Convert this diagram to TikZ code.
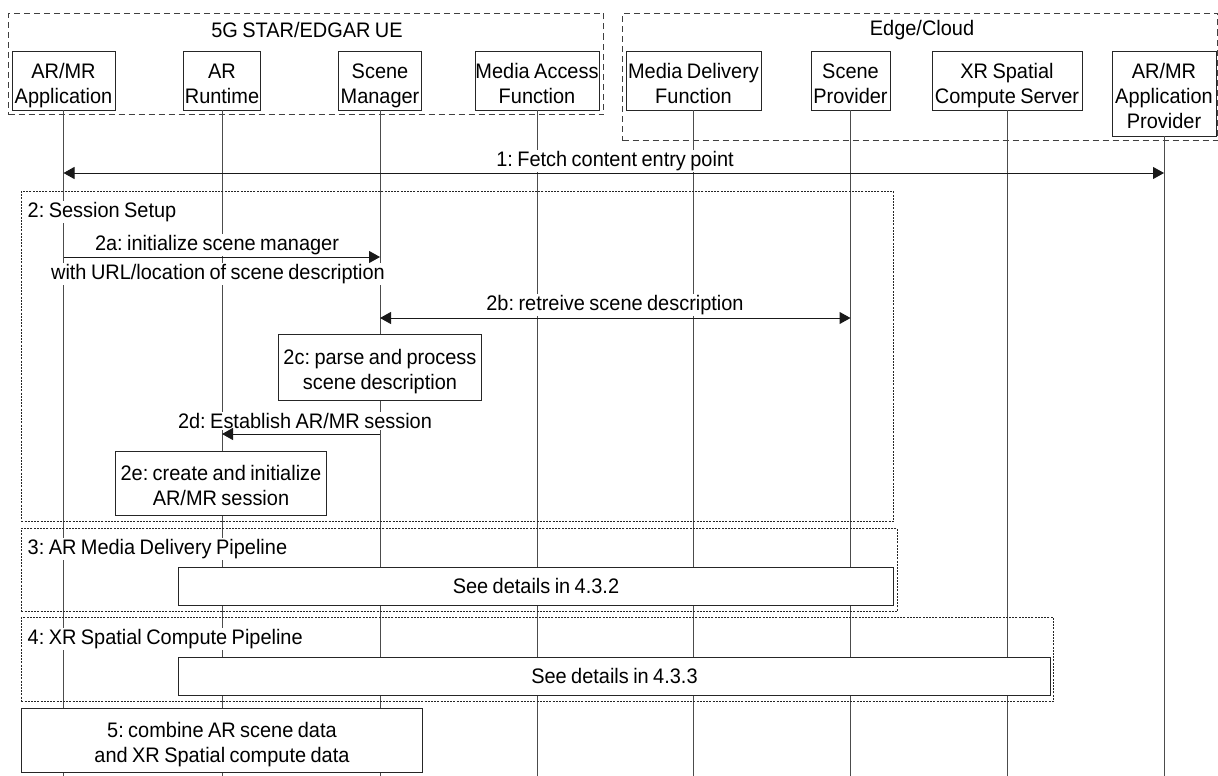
\documentclass[tikz,border=0pt]{standalone}
\usepackage{fontspec}
\setmainfont{Liberation Sans}[FakeStretch=0.95, WordSpace=0.8]
\usetikzlibrary{arrows.meta}
% struts that fix the first baseline and the last depth of boxed text
\newcommand\topstrut{\rule{0pt}{25pt}}
\newcommand\botstrut{\rule[-5pt]{0pt}{5pt}}
\frenchspacing
\begin{document}
\begin{tikzpicture}[x=1pt,y=-1pt,
  font=\fontsize{21}{25}\selectfont,
  actor/.style={draw=black!85, line width=0.9pt, fill=white, align=center, inner sep=0pt},
  domainbox/.style={draw=black!75, line width=1pt, dash pattern=on 6pt off 4pt, inner sep=0pt, anchor=north west},
  groupbox/.style={draw=black!85, line width=0.8pt, dash pattern=on 2pt off 1.2pt, inner sep=0pt, anchor=north west},
  stepbox/.style={draw=black!85, line width=0.9pt, fill=white, align=center, inner sep=0pt, anchor=north west},
  lifeline/.style={draw=black!70, line width=1pt},
  lbl/.style={fill=white, inner sep=1.5pt, align=center},
  msg/.style={draw=black!90, line width=1pt},
  arr/.tip={Triangle[length=11pt,width=12pt]}
]
\useasboundingbox (0,0) rectangle (1218,776);
\fill[white] (0,0) rectangle (1218,776);
\coordinate (bot) at (0,776);

% domain frames
\node[domainbox, minimum width=595, minimum height=101] (ue) at (8,13) {};
\node[domainbox, minimum width=595, minimum height=127] (edge) at (622,13) {};
\node (uet) at (307,30) {5G STAR/EDGAR UE};
\node (edget) at (922,30) {Edge/Cloud};

% participants
\node[actor, minimum width=103, minimum height=59] (app) at (63.5,80.5) {\topstrut AR/MR\\Application\botstrut};
\node[actor, minimum width=77, minimum height=59] (rt) at (222,80.5) {\topstrut AR\\Runtime\botstrut};
\node[actor, minimum width=83, minimum height=59] (sm) at (380,80.5) {\topstrut Scene\\Manager\botstrut};
\node[actor, minimum width=124, minimum height=59] (maf) at (537,80.5) {\topstrut Media Access\\Function\botstrut};
\node[actor, minimum width=135, minimum height=59] (mdf) at (693.5,80.5) {\topstrut Media Delivery\\Function\botstrut};
\node[actor, minimum width=79, minimum height=59] (sp) at (850.5,80.5) {\topstrut Scene\\Provider\botstrut};
\node[actor, minimum width=150, minimum height=59] (xr) at (1007,80.5) {\topstrut XR Spatial\\Compute Server\botstrut};
\node[actor, minimum width=104, minimum height=85] (prov) at (1164,93.5) {\topstrut AR/MR\\Application\\Provider\botstrut};

% lifelines
\foreach \p in {app,rt,sm,maf,mdf,sp,xr,prov}
  \draw[lifeline] (\p.south) -- (\p.south |- bot);

% procedure groups
\node[groupbox, minimum width=872, minimum height=330] (g2) at (21,191) {};
\node[groupbox, minimum width=876, minimum height=83] (g3) at (21,528) {};
\node[groupbox, minimum width=1032, minimum height=84] (g4) at (21,617) {};
\node[lbl, anchor=west] (g2t) at (26,212) {2: Session Setup};
\node[lbl, anchor=west] (g3t) at (26,549) {3: AR Media Delivery Pipeline};
\node[lbl, anchor=west] (g4t) at (26,639) {4: XR Spatial Compute Pipeline};

% 1: fetch content entry point
\coordinate (m1a) at (app.south |- 0,173);
\coordinate (m1b) at (prov.south |- 0,173);
\node[lbl] (m1t) at (615,161) {1: Fetch content entry point};
\draw[msg, arr-arr] (m1a) -- (m1b);

% 2a
\coordinate (m2aa) at (app.south |- 0,257);
\coordinate (m2ab) at (sm.south |- 0,257);
\node[lbl] (m2at) at (217,245) {2a: initialize scene manager};
\node[lbl] (m2au) at (218,274) {with URL/location of scene description};
\draw[msg, -arr] (m2aa) -- (m2ab);

% 2b
\coordinate (m2ba) at (sm.south |- 0,318);
\coordinate (m2bb) at (sp.south |- 0,318);
\node[lbl] (m2bt) at (615,305) {2b: retreive scene description};
\draw[msg, arr-arr] (m2ba) -- (m2bb);

% 2c
\node[stepbox, minimum width=203, minimum height=66] (s2c) at (278,334) {\topstrut 2c: parse and process\\scene description\botstrut};

% 2d
\coordinate (m2da) at (sm.south |- 0,434);
\coordinate (m2db) at (rt.south |- 0,434);
\node[lbl] (m2dt) at (305,421) {2d: Establish AR/MR session};
\draw[msg, -arr] (m2da) -- (m2db);

% 2e
\node[stepbox, minimum width=211, minimum height=64] (s2e) at (115,451) {\topstrut 2e: create and initialize\\AR/MR session\botstrut};

% 3 and 4
\node[stepbox, minimum width=715, minimum height=38] (s3) at (178,567) {See details in 4.3.2};
\node[stepbox, minimum width=872, minimum height=38] (s4) at (178,657) {See details in 4.3.3};

% 5
\node[stepbox, minimum width=401, minimum height=64] (s5) at (21,708) {\topstrut 5: combine AR scene data\\and XR Spatial compute data\botstrut};
\end{tikzpicture}
\end{document}
